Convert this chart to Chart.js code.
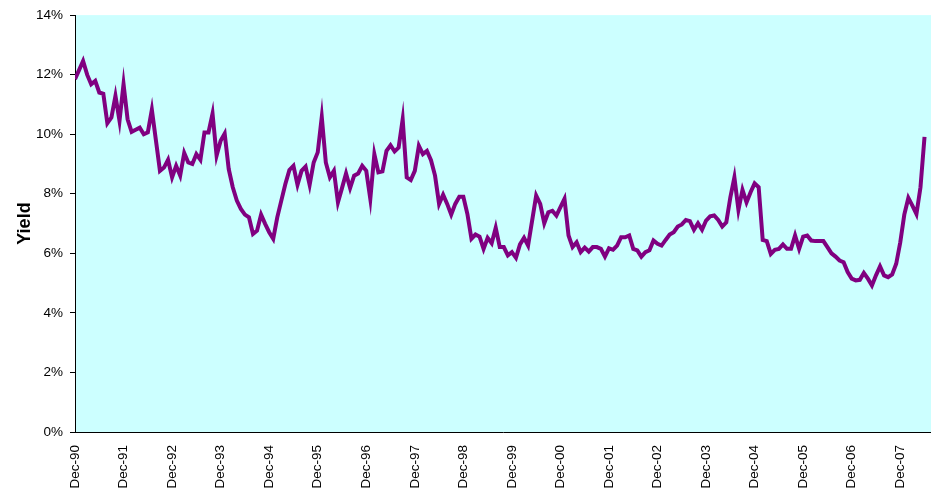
<!DOCTYPE html>
<html>
<head>
<meta charset="utf-8">
<script src="https://cdn.jsdelivr.net/npm/chart.js@4.4.1/dist/chart.umd.min.js"></script>
<style>
  html, body { margin: 0; padding: 0; background: #fff; }
  #wrap { width: 931px; height: 492px; position: relative; }
</style>
</head>
<body>
<div id="wrap"><canvas id="yieldChart"></canvas></div>
<script>
// monthly yields (%), Dec-90 .. Jun-08
let yields = [
  11.85, 12.15, 12.46, 12.0, 11.68, 11.79, 11.4, 11.36, 10.37, 10.56,
  11.29, 10.45, 11.68, 10.5, 10.08, 10.15, 10.22, 10.0, 10.06, 10.82,
  9.8, 8.77, 8.88, 9.14, 8.55, 8.94, 8.61, 9.37, 9.05, 9.0,
  9.33, 9.14, 10.06, 10.06, 10.69, 9.28, 9.78, 10.02, 8.83, 8.22,
  7.77, 7.49, 7.3, 7.21, 6.65, 6.76, 7.3, 6.99, 6.71, 6.49,
  7.21, 7.77, 8.33, 8.8, 8.94, 8.3, 8.77, 8.91, 8.3, 9.05,
  9.39, 10.58, 9.05, 8.55, 8.77, 7.71, 8.19, 8.68, 8.19, 8.61,
  8.68, 8.94, 8.77, 7.83, 9.33, 8.72, 8.75, 9.44, 9.63, 9.42,
  9.55, 10.5, 8.55, 8.46, 8.77, 9.61, 9.33, 9.44, 9.13, 8.61,
  7.66, 7.97, 7.66, 7.3, 7.66, 7.9, 7.9, 7.32, 6.49, 6.63,
  6.56, 6.15, 6.52, 6.34, 6.86, 6.21, 6.21, 5.93, 6.04, 5.85,
  6.3, 6.52, 6.26, 7.1, 7.94, 7.66, 7.01, 7.38, 7.43, 7.27,
  7.55, 7.83, 6.6, 6.21, 6.37, 6.04, 6.19, 6.06, 6.21, 6.21,
  6.15, 5.89, 6.17, 6.12, 6.26, 6.54, 6.54, 6.6, 6.15, 6.1,
  5.89, 6.04, 6.1, 6.43, 6.32, 6.26, 6.45, 6.63, 6.71, 6.9,
  6.97, 7.12, 7.08, 6.79, 7.01, 6.79, 7.1, 7.24, 7.27, 7.12,
  6.9, 7.04, 7.88, 8.55, 7.46, 8.13, 7.71, 8.05, 8.35, 8.22,
  6.45, 6.41, 5.98, 6.12, 6.15, 6.3, 6.15, 6.15, 6.6, 6.15,
  6.56, 6.6, 6.43, 6.41, 6.41, 6.41, 6.21, 6.0, 5.89, 5.76,
  5.7, 5.37, 5.15, 5.09, 5.11, 5.34, 5.15, 4.92, 5.26, 5.56,
  5.26, 5.2, 5.29, 5.65, 6.37, 7.3, 7.86, 7.6, 7.32, 8.22,
  9.91
];

let decLabels = ['Dec-90', 'Dec-91', 'Dec-92', 'Dec-93', 'Dec-94', 'Dec-95',
  'Dec-96', 'Dec-97', 'Dec-98', 'Dec-99', 'Dec-00', 'Dec-01', 'Dec-02',
  'Dec-03', 'Dec-04', 'Dec-05', 'Dec-06', 'Dec-07'];

let yTicks = [0, 2, 4, 6, 8, 10, 12, 14];

let points = yields.map((v, i) => ({ x: i, y: v }));
let xTickPos = decLabels.map((_, k) => k * 12);

const plotBg = {
  id: 'plotBg',
  beforeDraw(chart) {
    const { ctx, chartArea: a } = chart;
    ctx.save();
    ctx.fillStyle = '#CCFFFF';
    ctx.fillRect(a.left, a.top, a.right - a.left, a.bottom - a.top);
    ctx.restore();
  }
};

const font = { family: '"Liberation Sans", Arial, sans-serif', size: 13.5 };

let ctx = document.getElementById('yieldChart').getContext('2d');

let chart = new Chart(ctx, {
  type: 'line',
  data: {
    datasets: [{
      data: points,
      borderColor: '#800080',
      borderWidth: 4,
      pointRadius: 0,
      tension: 0,
      fill: false
    }]
  },
  options: {
    responsive: true,
    maintainAspectRatio: false,
    animation: false,
    layout: { padding: { top: 14, right: 0, bottom: 0, left: 0 } },
    plugins: { legend: { display: false }, tooltip: { enabled: false } },
    scales: {
      x: {
        type: 'linear',
        min: 0,
        max: 211.6,
        afterFit: s => { s.height = 60; },
        afterBuildTicks: s => { s.ticks = xTickPos.map(v => ({ value: v })); },
        grid: { display: false },
        border: { display: true, color: '#000', width: 1 },
        ticks: {
          autoSkip: false,
          maxRotation: 90,
          minRotation: 90,
          padding: 5,
          color: '#000',
          font: font,
          callback: v => decLabels[Math.round(v / 12)]
        }
      },
      y: {
        min: 0,
        max: 14,
        afterFit: s => { s.width = 75; },
        afterBuildTicks: s => { s.ticks = yTicks.map(v => ({ value: v })); },
        grid: { drawOnChartArea: false, tickLength: 5, color: '#000' },
        border: { display: true, color: '#000', width: 1 },
        ticks: {
          padding: 7,
          color: '#000',
          font: font,
          callback: v => v + '%'
        },
        title: {
          display: true,
          text: 'Yield',
          color: '#000',
          font: { family: '"Liberation Sans", Arial, sans-serif', size: 18, weight: 'bold' },
          padding: { top: 14, bottom: 0 }
        }
      }
    }
  },
  plugins: [plotBg]
});
</script>
</body>
</html>
